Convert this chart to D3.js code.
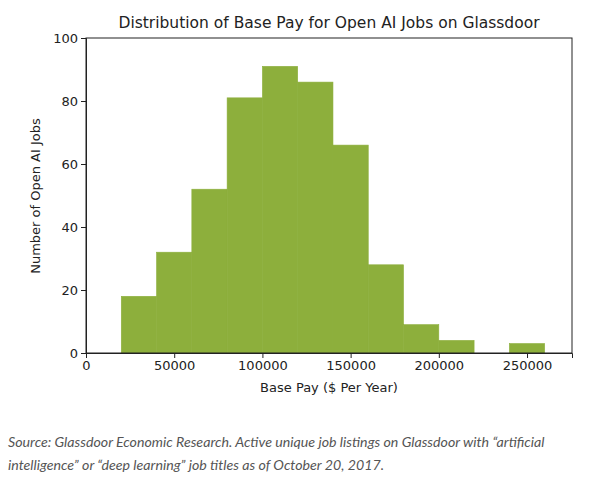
<!DOCTYPE html>
<html><head><meta charset="utf-8">
<script src="https://cdn.jsdelivr.net/npm/d3@7"></script>
<style>body{margin:0;background:#fff;font-family:"DejaVu Sans",sans-serif;}</style>
</head><body>
<svg id="chart" width="608" height="491"></svg>
<script>
var binStart = [20000, 40000, 60000, 80000, 100000, 120000, 140000, 160000, 180000, 200000, 220000, 240000];
var binCount = [18, 32, 52, 81, 91, 86, 66, 28, 9, 4, 0, 3];
var binWidth = 20000;
var xTicks = [0, 50000, 100000, 150000, 200000, 250000];
var yTicks = [0, 20, 40, 60, 80, 100];

var svg = d3.select('#chart');
var m = {left: 86, right: 572, top: 38, bottom: 353};
var x = d3.scaleLinear().domain([0, 275500]).range([m.left, m.right]);
var y = d3.scaleLinear().domain([0, 100]).range([m.bottom, m.top]);

svg.selectAll('rect.bar').data(binStart).enter().append('rect')
	.attr('class', 'bar')
	.attr('x', function(d) { return x(d); })
	.attr('width', function(d) { return x(d + binWidth) - x(d); })
	.attr('y', function(d, i) { return y(binCount[i]); })
	.attr('height', function(d, i) { return y(0) - y(binCount[i]); })
	.attr('fill', '#8daf3c')
	.attr('stroke', '#8daf3c').attr('stroke-width', 0.6);

var gx = svg.append('g').attr('transform', 'translate(0,' + m.bottom + ')')
	.call(d3.axisBottom(x).tickValues(xTicks).tickFormat(d3.format('d')).tickSizeOuter(0).tickSize(5));
var gy = svg.append('g').attr('transform', 'translate(' + m.left + ',0)')
	.call(d3.axisLeft(y).tickValues(yTicks).tickSizeOuter(0).tickSize(5));
[gx, gy].forEach(function(g) {
	g.selectAll('text').attr('font-size', 13).attr('fill', '#222').attr('font-family', 'DejaVu Sans');
	g.selectAll('line,path').attr('stroke', '#222');
});
svg.append('rect').attr('x', m.left).attr('y', m.top)
	.attr('width', m.right - m.left).attr('height', m.bottom - m.top)
	.attr('fill', 'none').attr('stroke', '#222');

svg.append('text').attr('x', 329).attr('y', 28).attr('text-anchor', 'middle')
	.attr('font-size', 15.5).attr('fill', '#222').text('Distribution of Base Pay for Open AI Jobs on Glassdoor');
svg.append('text').attr('x', 329).attr('y', 392).attr('text-anchor', 'middle')
	.attr('font-size', 13).attr('fill', '#222').text('Base Pay ($ Per Year)');
svg.append('text').attr('transform', 'translate(40,196) rotate(-90)').attr('text-anchor', 'middle')
	.attr('font-size', 13).attr('fill', '#222').text('Number of Open AI Jobs');

var src = svg.append('g').attr('font-family', 'Lato, sans-serif').attr('font-style', 'italic')
	.attr('font-size', 14.2).attr('fill', '#555');
src.append('text').attr('x', 8).attr('y', 447)
	.text('Source: Glassdoor Economic Research. Active unique job listings on Glassdoor with \u201cartificial');
src.append('text').attr('x', 8).attr('y', 470)
	.text('intelligence\u201d or \u201cdeep learning\u201d job titles as of October 20, 2017.');
</script>
</body></html>
